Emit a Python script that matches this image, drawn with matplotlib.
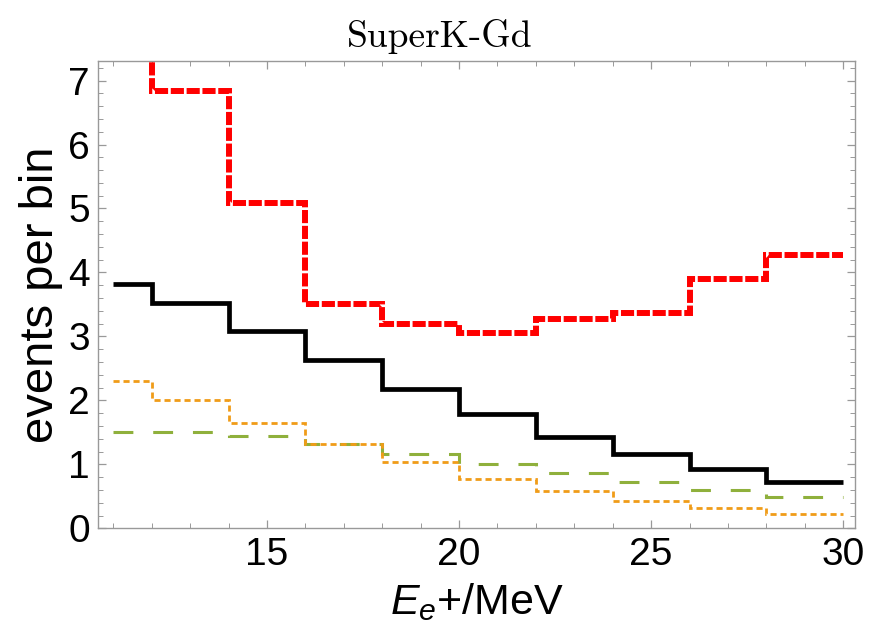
import numpy as np
import matplotlib
matplotlib.use("Agg")
from matplotlib import pyplot as plt
from matplotlib.ticker import MultipleLocator

# bin edges in MeV
edges = [11, 12, 14, 16, 18, 20, 22, 24, 26, 28, 30]

# events per bin
black_vals = [3.82, 3.52, 3.09, 2.63, 2.18, 1.78, 1.43, 1.16, 0.92, 0.73]
red_vals = [9.5, 6.84, 5.09, 3.50, 3.19, 3.05, 3.27, 3.36, 3.89, 4.27]
orange_vals = [2.31, 2.00, 1.65, 1.32, 1.03, 0.77, 0.58, 0.43, 0.31, 0.22]
green_vals = [1.50, 1.51, 1.44, 1.32, 1.16, 1.00, 0.86, 0.72, 0.60, 0.49]

title = "SuperK-Gd"
xlabel = r"$E_{e}$+/MeV"
ylabel = "events per bin"

plt.rcParams["font.family"] = ["Liberation Sans", "DejaVu Sans"]
plt.rcParams["mathtext.fontset"] = "custom"
plt.rcParams["mathtext.rm"] = "Liberation Sans"
plt.rcParams["mathtext.it"] = "Liberation Sans:italic"

fig = plt.figure(figsize=(8.69, 6.37), dpi=100)
ax = fig.add_axes([0.1131, 0.1706, 0.8709, 0.7341])

ax.stairs(green_vals, edges, baseline=None, color="#8fb03c", lw=2.2,
          linestyle=(0, (6.5, 6.5)), zorder=2)
ax.stairs(orange_vals, edges, baseline=None, color="#f09c18", lw=2.0,
          linestyle=(0, (2.2, 1.4)), zorder=3)
ax.stairs(black_vals, edges, baseline=None, color="black", lw=3.4, zorder=4)
ax.stairs(red_vals, edges, baseline=None, color="red", lw=4.3,
          linestyle=(0, (2.2, 0.45)), zorder=5)

ax.set_xlim(10.61, 30.31)
ax.set_ylim(0, 7.31)

ax.xaxis.set_major_locator(MultipleLocator(5))
ax.xaxis.set_minor_locator(MultipleLocator(1))
ax.yaxis.set_major_locator(MultipleLocator(1))
ax.yaxis.set_minor_locator(MultipleLocator(0.2))

frame_col = "#999999"
for sp in ax.spines.values():
    sp.set_color(frame_col)
    sp.set_linewidth(1.0)
ax.tick_params(which="both", direction="in", top=True, right=True,
               color=frame_col, labelsize=28, labelcolor="black")
ax.tick_params(which="major", length=6, width=0.9, pad=6)
ax.tick_params(which="minor", length=3.5, width=0.7)

ax.set_xlabel(xlabel, fontsize=31, labelpad=6)
ax.set_ylabel(ylabel, fontsize=34, labelpad=4)
# plot label is centred on the whole image, not on the frame
fig.text(0.506, 1 - 47 / 637, title, family="cmr10", fontsize=27,
         ha="center", va="baseline")

fig.savefig("out.png", dpi=100)
